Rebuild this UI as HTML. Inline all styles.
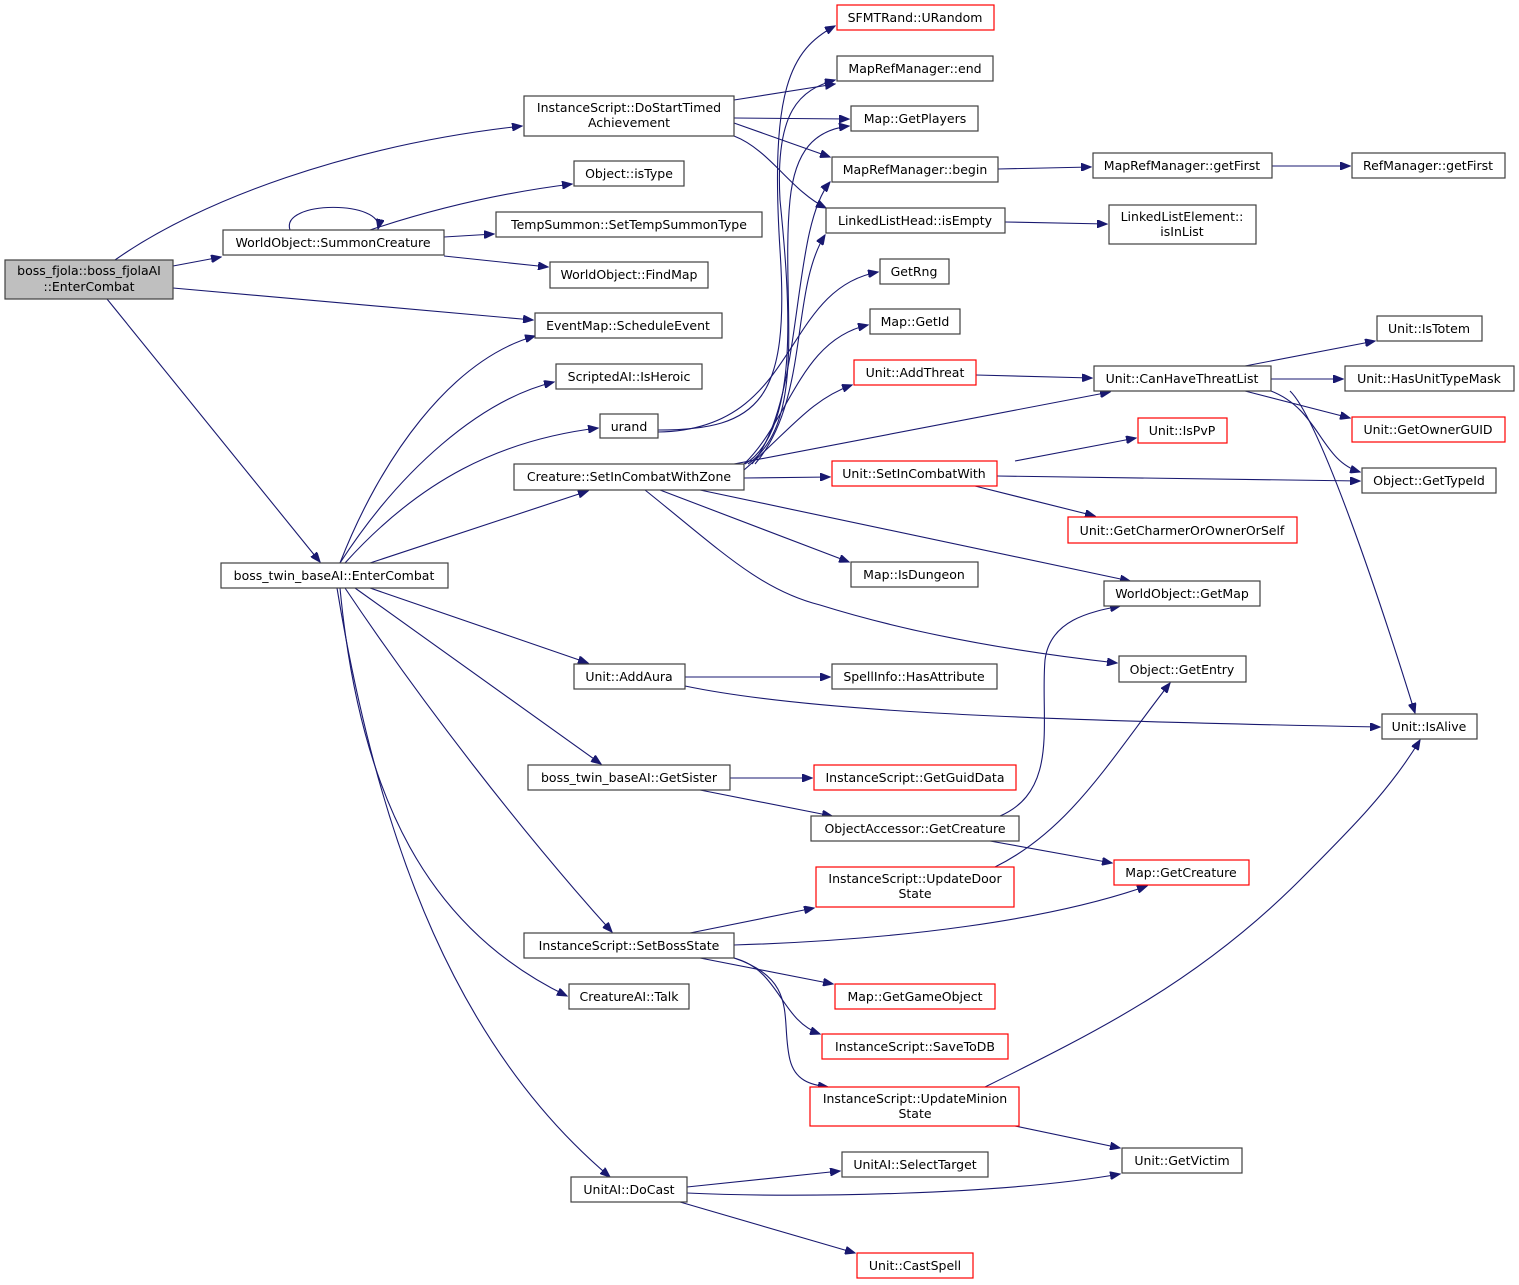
<!DOCTYPE html>
<html><head><meta charset="utf-8"><style>
html,body{margin:0;padding:0;background:#fff;}
svg{display:block;}
text{font-family:"DejaVu Sans","Liberation Sans",sans-serif;font-size:12.5px;fill:#000;}
rect{fill:#fff;stroke:#404040;stroke-width:1.2;}
rect.r{stroke:#ff0000;}
path{fill:none;stroke:#191970;stroke-width:1.1;}
</style></head><body>
<svg width="1519" height="1285" viewBox="0 0 1519 1285" xmlns="http://www.w3.org/2000/svg">
<defs><marker id="a" markerWidth="11" markerHeight="8" refX="10" refY="4" orient="auto" markerUnits="userSpaceOnUse"><path d="M0,0 L10,4 L0,8 Z" style="fill:#191970;stroke:#191970"/></marker></defs>
<g marker-end="url(#a)">
<path d="M115,260 C200,200 350,145 522,126"/>
<path d="M173,266 L221,257"/>
<path d="M173,288 L533,320"/>
<path d="M107,299 L320,562"/>
<path d="M290,230 C280,200 385,200 378,229"/>
<path d="M370,230 C430,210 500,193 572,184"/>
<path d="M444,237 L494,234"/>
<path d="M444,256 L548,267"/>
<path d="M734,100 L835,84"/>
<path d="M734,118 L849,119"/>
<path d="M734,123 L830,157"/>
<path d="M734,136 C770,150 790,190 826,208"/>
<path d="M340,563 C380,460 450,360 535,336"/>
<path d="M340,563 C400,470 480,400 554,382"/>
<path d="M345,563 C420,480 500,440 598,428"/>
<path d="M370,563 L588,491"/>
<path d="M370,588 L588,663"/>
<path d="M355,588 L601,764"/>
<path d="M345,588 C420,700 520,830 612,932"/>
<path d="M340,588 C360,800 430,930 567,996"/>
<path d="M337,588 C380,850 460,1050 610,1177"/>
<path d="M658,430 C760,430 790,400 780,250 C770,90 790,50 835,26"/>
<path d="M658,432 C800,430 780,290 878,272"/>
<path d="M745,464 C800,430 790,300 780,200 C775,110 800,90 835,80"/>
<path d="M748,464 C810,420 780,300 790,200 C795,150 815,130 849,126"/>
<path d="M752,464 C805,400 790,230 830,182"/>
<path d="M755,464 C810,400 790,290 825,235"/>
<path d="M744,464 C790,420 800,340 868,325"/>
<path d="M744,470 C790,430 810,400 852,385"/>
<path d="M734,464 L1110,392"/>
<path d="M744,478 L830,477"/>
<path d="M660,490 L849,562"/>
<path d="M700,490 L1130,581"/>
<path d="M645,490 C720,550 760,590 820,605 C900,630 1000,650 1117,663"/>
<path d="M998,169 L1091,167"/>
<path d="M1272,166 L1350,166"/>
<path d="M1005,222 L1107,224"/>
<path d="M976,375 L1092,378"/>
<path d="M1245,366 L1375,341"/>
<path d="M1271,379 L1343,379"/>
<path d="M1245,391 L1350,418"/>
<path d="M1271,391 C1320,410 1320,460 1360,472"/>
<path d="M1290,391 C1320,420 1380,600 1415,713"/>
<path d="M1015,461 L1136,438"/>
<path d="M997,476 L1360,481"/>
<path d="M975,486 L1095,516"/>
<path d="M685,677 L830,677"/>
<path d="M685,686 C800,710 1000,720 1380,727"/>
<path d="M730,778 L812,778"/>
<path d="M700,790 L832,816"/>
<path d="M1000,816 C1060,790 1040,720 1045,660 C1050,620 1090,612 1120,606"/>
<path d="M990,841 L1112,863"/>
<path d="M995,867 C1070,830 1110,760 1170,683"/>
<path d="M690,933 L814,908"/>
<path d="M734,945 C900,940 1050,920 1147,886"/>
<path d="M700,958 L833,984"/>
<path d="M734,958 C780,970 780,1020 820,1034"/>
<path d="M734,958 C800,980 780,1020 790,1060 C795,1080 810,1085 828,1087"/>
<path d="M985,1087 C1100,1030 1200,980 1300,880 C1350,830 1390,790 1420,740"/>
<path d="M1015,1126 L1120,1148"/>
<path d="M687,1187 L840,1171"/>
<path d="M687,1193 C800,1198 1000,1195 1120,1174"/>
<path d="M680,1202 L855,1253"/>
</g>
<g text-anchor="middle">
<rect x="5" y="260" width="168" height="39" style="fill:#bfbfbf"/><text x="89" y="275">boss_fjola::boss_fjolaAI</text><text x="89" y="291">::EnterCombat</text>
<rect x="524" y="96" width="210" height="40"/><text x="629" y="112">InstanceScript::DoStartTimed</text><text x="629" y="127">Achievement</text>
<rect x="574" y="161" width="110" height="25"/><text x="629" y="178">Object::isType</text>
<rect x="223" y="230" width="221" height="25"/><text x="333" y="247">WorldObject::SummonCreature</text>
<rect x="496" y="212" width="266" height="25"/><text x="629" y="229">TempSummon::SetTempSummonType</text>
<rect x="550" y="262" width="158" height="26"/><text x="629" y="279">WorldObject::FindMap</text>
<rect x="535" y="313" width="187" height="25"/><text x="628" y="330">EventMap::ScheduleEvent</text>
<rect x="556" y="364" width="146" height="25"/><text x="629" y="381">ScriptedAI::IsHeroic</text>
<rect x="600" y="414" width="58" height="24"/><text x="629" y="431">urand</text>
<rect x="514" y="464" width="230" height="26"/><text x="629" y="481">Creature::SetInCombatWithZone</text>
<rect x="221" y="563" width="227" height="25"/><text x="334" y="580">boss_twin_baseAI::EnterCombat</text>
<rect x="574" y="664" width="111" height="25"/><text x="629" y="681">Unit::AddAura</text>
<rect x="528" y="765" width="202" height="25"/><text x="629" y="782">boss_twin_baseAI::GetSister</text>
<rect x="524" y="933" width="210" height="25"/><text x="629" y="950">InstanceScript::SetBossState</text>
<rect x="569" y="984" width="120" height="25"/><text x="629" y="1001">CreatureAI::Talk</text>
<rect x="571" y="1177" width="116" height="25"/><text x="629" y="1194">UnitAI::DoCast</text>

<rect class="r" x="837" y="5" width="157" height="25"/><text x="915" y="22">SFMTRand::URandom</text>
<rect x="837" y="56" width="156" height="25"/><text x="915" y="73">MapRefManager::end</text>
<rect x="851" y="106" width="127" height="25"/><text x="915" y="123">Map::GetPlayers</text>
<rect x="832" y="157" width="166" height="25"/><text x="915" y="174">MapRefManager::begin</text>
<rect x="826" y="208" width="179" height="25"/><text x="915" y="225">LinkedListHead::isEmpty</text>
<rect x="880" y="259" width="69" height="25"/><text x="914" y="276">GetRng</text>
<rect x="870" y="309" width="90" height="25"/><text x="915" y="326">Map::GetId</text>
<rect class="r" x="854" y="360" width="122" height="25"/><text x="915" y="377">Unit::AddThreat</text>
<rect class="r" x="832" y="461" width="165" height="25"/><text x="914" y="478">Unit::SetInCombatWith</text>
<rect x="851" y="562" width="127" height="25"/><text x="914" y="579">Map::IsDungeon</text>
<rect x="832" y="664" width="165" height="25"/><text x="914" y="681">SpellInfo::HasAttribute</text>
<rect class="r" x="814" y="765" width="202" height="25"/><text x="915" y="782">InstanceScript::GetGuidData</text>
<rect x="811" y="816" width="208" height="25"/><text x="915" y="833">ObjectAccessor::GetCreature</text>
<rect class="r" x="816" y="867" width="198" height="40"/><text x="915" y="883">InstanceScript::UpdateDoor</text><text x="915" y="898">State</text>
<rect class="r" x="835" y="984" width="160" height="25"/><text x="915" y="1001">Map::GetGameObject</text>
<rect class="r" x="822" y="1034" width="186" height="25"/><text x="915" y="1051">InstanceScript::SaveToDB</text>
<rect class="r" x="810" y="1087" width="209" height="39"/><text x="915" y="1103">InstanceScript::UpdateMinion</text><text x="915" y="1118">State</text>
<rect x="842" y="1152" width="146" height="25"/><text x="915" y="1169">UnitAI::SelectTarget</text>
<rect class="r" x="857" y="1253" width="116" height="25"/><text x="915" y="1270">Unit::CastSpell</text>

<rect x="1093" y="153" width="179" height="25"/><text x="1182" y="170">MapRefManager::getFirst</text>
<rect x="1109" y="205" width="147" height="39"/><text x="1182" y="221">LinkedListElement::</text><text x="1182" y="236">isInList</text>
<rect x="1094" y="366" width="177" height="25"/><text x="1182" y="383">Unit::CanHaveThreatList</text>
<rect class="r" x="1138" y="418" width="89" height="25"/><text x="1182" y="435">Unit::IsPvP</text>
<rect class="r" x="1068" y="517" width="229" height="26"/><text x="1182" y="535">Unit::GetCharmerOrOwnerOrSelf</text>
<rect x="1104" y="581" width="156" height="25"/><text x="1182" y="598">WorldObject::GetMap</text>
<rect x="1119" y="656" width="127" height="26"/><text x="1182" y="674">Object::GetEntry</text>
<rect class="r" x="1114" y="860" width="135" height="25"/><text x="1181" y="877">Map::GetCreature</text>
<rect x="1122" y="1148" width="120" height="25"/><text x="1182" y="1165">Unit::GetVictim</text>

<rect x="1352" y="153" width="153" height="25"/><text x="1428" y="170">RefManager::getFirst</text>
<rect x="1377" y="316" width="105" height="25"/><text x="1429" y="333">Unit::IsTotem</text>
<rect x="1345" y="366" width="169" height="25"/><text x="1429" y="383">Unit::HasUnitTypeMask</text>
<rect class="r" x="1352" y="417" width="153" height="25"/><text x="1428" y="434">Unit::GetOwnerGUID</text>
<rect x="1362" y="468" width="134" height="25"/><text x="1429" y="485">Object::GetTypeId</text>
<rect x="1382" y="714" width="95" height="25"/><text x="1429" y="731">Unit::IsAlive</text>
</g>
</svg>
</body></html>
